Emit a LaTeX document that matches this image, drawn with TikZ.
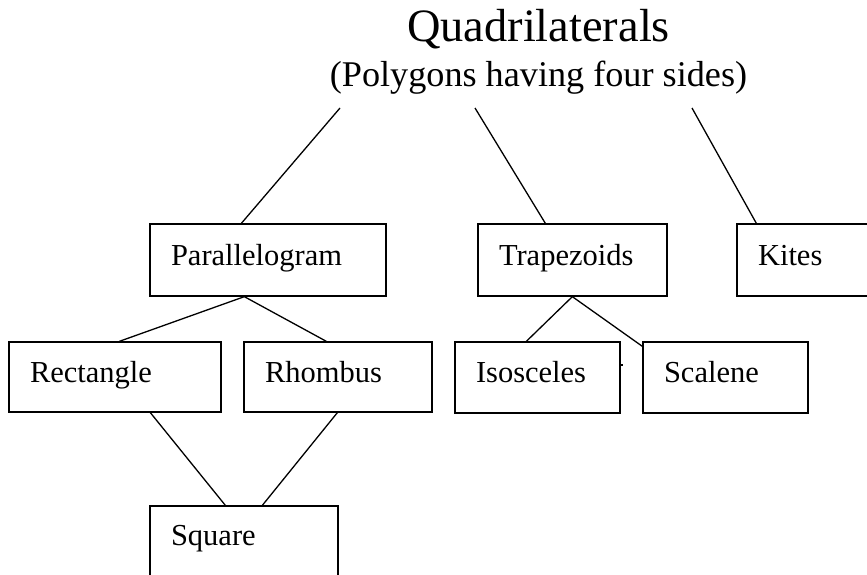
\documentclass[tikz,border=0pt]{standalone}
\usepackage{fontspec}
\setmainfont{Liberation Serif}
\begin{document}
\begin{tikzpicture}[x=1pt,y=-1pt,
  box/.style={draw, line width=1.3pt, inner xsep=21pt, inner ysep=0pt, align=left,
    text height=20pt, text depth=10pt, font=\fontsize{30.5}{36}\selectfont},
  conn/.style={line width=1.3pt}]
\clip (0,0) rectangle (867,575);
\fill[white] (0,0) rectangle (867,575);
% titles
\node[anchor=base, inner sep=0pt, font=\fontsize{46.4}{52}\selectfont] (title) at (538.5,42) {Quadrilaterals};
\node[anchor=base, inner sep=0pt, font=\fontsize{36.2}{42}\selectfont] (sub) at (538.5,87) {(Polygons having four sides)};
% boxes
\node[box, text width=194pt, minimum height=72pt] (par) at (268,260) {Parallelogram};
\node[box, text width=147pt, minimum height=72pt] (trap) at (572.5,260) {Trapezoids};
\node[box, text width=138pt, minimum height=72pt] (kites) at (827,260) {Kites};
\node[box, text width=170pt, minimum height=70pt] (rect) at (115,377) {Rectangle};
\node[box, text width=146pt, minimum height=70pt] (rhom) at (338,377) {Rhombus};
\node[box, text width=123pt, minimum height=71pt] (isos) at (537.5,377.5) {Isosceles};
\node[box, text width=123pt, minimum height=71pt] (scal) at (725.5,377.5) {Scalene};
\node[box, text width=146pt, minimum height=88pt, text depth=30pt] (square) at (244,550) {Square};
% free ends under the subtitle
\coordinate (t1) at (340,108);
\coordinate (t2) at (475,108);
\coordinate (t3) at (692,108);
% connectors
\draw[conn] (t1) -- ([xshift=92pt]par.north west);
\draw[conn] (t2) -- ([xshift=68pt]trap.north west);
\draw[conn] (t3) -- ([xshift=20pt]kites.north west);
\draw[conn] ([xshift=95pt]par.south west) -- ([xshift=111pt]rect.north west);
\draw[conn] ([xshift=95pt]par.south west) -- ([xshift=83pt]rhom.north west);
\draw[conn] ([xshift=95pt]trap.south west) -- ([xshift=72pt]isos.north west);
\draw[conn] ([xshift=95pt]trap.south west) -- ([yshift=-5pt]scal.north west);
\draw[conn] ([xshift=142pt]rect.south west) -- ([xshift=76pt]square.north west);
\draw[conn] ([xshift=94pt]rhom.south west) -- ([xshift=113pt]square.north west);
% small tick beside Isosceles
\draw[line width=1.2pt] (620.5,365) -- (622.5,365);
\end{tikzpicture}
\end{document}
